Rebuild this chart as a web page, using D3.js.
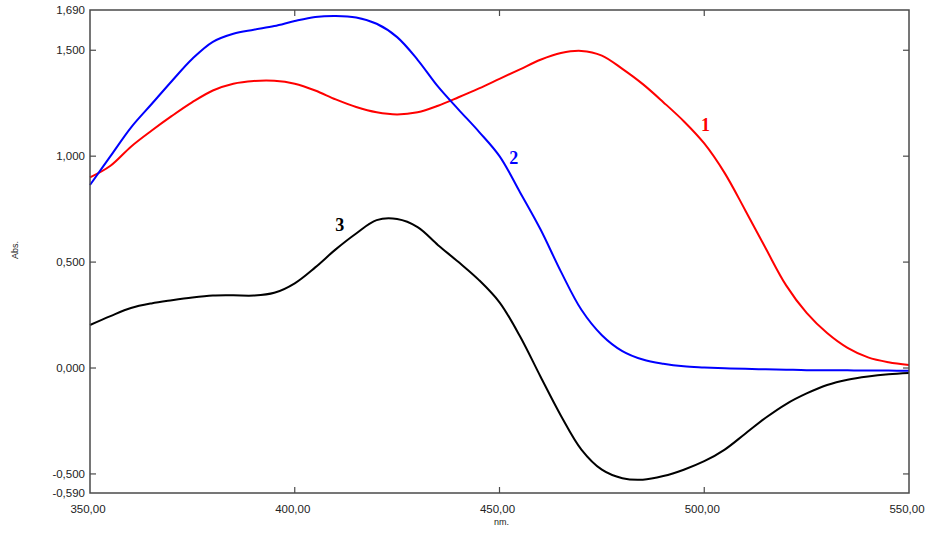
<!DOCTYPE html>
<html>
<head>
<meta charset="utf-8">
<script src="https://cdn.jsdelivr.net/npm/d3@7"></script>
<style>
  body { margin: 0; background: #fff; }
  text { font-family: Arial, "Liberation Sans", sans-serif; }
</style>
</head>
<body>
<div id="chart"></div>
<script>
// wavelength grid (nm)
var wavelengths = [350, 355, 360, 365, 370, 375, 380, 385, 390, 395,
  400, 405, 410, 415, 420, 425, 430, 435, 440, 445,
  450, 455, 460, 465, 470, 475, 480, 485, 490, 495,
  500, 505, 510, 515, 520, 525, 530, 535, 540, 545, 550];

// curve 1 (red)
var series1 = [0.900, 0.955, 1.045, 1.120, 1.190, 1.255, 1.310, 1.342, 1.355, 1.356,
  1.342, 1.310, 1.268, 1.232, 1.207, 1.197, 1.207, 1.238, 1.278, 1.320,
  1.365, 1.410, 1.455, 1.487, 1.497, 1.475, 1.412, 1.340, 1.255, 1.165,
  1.060, 0.920, 0.745, 0.565, 0.390, 0.260, 0.165, 0.095, 0.050, 0.027, 0.014];

// curve 2 (blue)
var series2 = [0.864, 1.000, 1.135, 1.245, 1.355, 1.460, 1.540, 1.578, 1.597, 1.614,
  1.638, 1.657, 1.662, 1.655, 1.625, 1.562, 1.455, 1.328, 1.220, 1.115,
  1.000, 0.830, 0.655, 0.455, 0.275, 0.155, 0.080, 0.040, 0.020, 0.008,
  0.003, -0.001, -0.004, -0.006, -0.008, -0.010, -0.010, -0.011, -0.012, -0.012, -0.013];

// curve 3 (black)
var series3 = [0.203, 0.245, 0.283, 0.305, 0.320, 0.333, 0.342, 0.343, 0.342, 0.355,
  0.400, 0.475, 0.560, 0.635, 0.698, 0.703, 0.665, 0.580, 0.500, 0.415,
  0.310, 0.150, -0.040, -0.225, -0.385, -0.480, -0.520, -0.527, -0.510, -0.480,
  -0.440, -0.385, -0.310, -0.235, -0.170, -0.120, -0.080, -0.055, -0.040, -0.030, -0.024];

var xTicks = [350, 400, 450, 500, 550];
var yTicks = [-0.59, -0.5, 0, 0.5, 1, 1.5, 1.69];
var yInnerTicks = [-0.5, 0, 0.5, 1, 1.5];
var xInnerTicks = [400, 450, 500];

// curve labels: [text, wavelength, absorbance]
var curveLabels = [
  ["1", 500.3, 1.12],
  ["2", 453.5, 0.963],
  ["3", 411.0, 0.647]
];

var colors = ["#ff0000", "#0000ff", "#000000"];

// Dimensions
var width = 927,
    height = 537,
    plotL = 90, plotR = 909, plotT = 10, plotB = 493;

var svg = d3.select("#chart")
  .append("svg")
    .attr("width", width)
    .attr("height", height);

var x = d3.scaleLinear().domain([350, 550]).range([plotL, plotR]);
var y = d3.scaleLinear().domain([-0.59, 1.69]).range([plotB, plotT]);

var fmtY = function(d) { return d3.format(".3f")(d).replace(".", ",").replace("−", "-"); };
var fmtX = function(d) { return d3.format(".2f")(d).replace(".", ","); };

// Curves
var line = d3.line()
  .x(function(d) { return x(d[0]); })
  .y(function(d) { return y(d[1]); })
  .curve(d3.curveCatmullRom.alpha(0.5));

[series1, series2, series3].forEach(function(s, i) {
  svg.append("path")
    .datum(wavelengths.map(function(w, j) { return [w, s[j]]; }))
    .attr("fill", "none")
    .attr("stroke", colors[i])
    .attr("stroke-width", 2)
    .attr("d", line);
});

// Frame
svg.append("rect")
  .attr("x", plotL)
  .attr("y", plotT)
  .attr("width", plotR - plotL)
  .attr("height", plotB - plotT)
  .attr("fill", "none")
  .attr("stroke", "#4a4a4a")
  .attr("stroke-width", 1.5);

// Inward ticks
var tickLen = 6;
svg.selectAll(".ytl").data(yInnerTicks).enter().append("line")
  .attr("x1", plotL).attr("x2", plotL + tickLen)
  .attr("y1", function(d) { return y(d); }).attr("y2", function(d) { return y(d); })
  .attr("stroke", "#4a4a4a").attr("stroke-width", 1.2);
svg.selectAll(".ytr").data(yInnerTicks).enter().append("line")
  .attr("x1", plotR).attr("x2", plotR - tickLen)
  .attr("y1", function(d) { return y(d); }).attr("y2", function(d) { return y(d); })
  .attr("stroke", "#4a4a4a").attr("stroke-width", 1.2);
svg.selectAll(".xtb").data(xInnerTicks).enter().append("line")
  .attr("x1", function(d) { return x(d); }).attr("x2", function(d) { return x(d); })
  .attr("y1", plotB).attr("y2", plotB - tickLen)
  .attr("stroke", "#4a4a4a").attr("stroke-width", 1.2);
svg.selectAll(".xtt").data(xInnerTicks).enter().append("line")
  .attr("x1", function(d) { return x(d); }).attr("x2", function(d) { return x(d); })
  .attr("y1", plotT).attr("y2", plotT + tickLen)
  .attr("stroke", "#4a4a4a").attr("stroke-width", 1.2);

// Tick labels
svg.selectAll(".ylab").data(yTicks).enter().append("text")
  .attr("x", plotL - 5)
  .attr("y", function(d) { return y(d); })
  .attr("dy", "0.35em")
  .attr("text-anchor", "end")
  .style("font-size", "11.5px")
  .attr("fill", "#222")
  .text(fmtY);

svg.selectAll(".xlab").data(xTicks).enter().append("text")
  .attr("x", function(d) { return x(d) - 2; })
  .attr("y", 513)
  .attr("text-anchor", "middle")
  .style("font-size", "11.5px")
  .attr("fill", "#222")
  .text(fmtX);

// Axis titles
svg.append("text")
  .attr("x", (plotL + plotR) / 2 + 2)
  .attr("y", 525)
  .attr("text-anchor", "middle")
  .style("font-size", "9px")
  .attr("fill", "#222")
  .text("nm.");

svg.append("text")
  .attr("transform", "translate(18," + 250 + ")rotate(-90)")
  .attr("text-anchor", "middle")
  .style("font-size", "9px")
  .attr("fill", "#222")
  .text("Abs.");

// Curve numbers
svg.selectAll(".clab").data(curveLabels).enter().append("text")
  .attr("x", function(d) { return x(d[1]); })
  .attr("y", function(d) { return y(d[2]); })
  .attr("text-anchor", "middle")
  .style("font-family", "'Liberation Serif', 'Times New Roman', serif")
  .style("font-size", "18px")
  .style("font-weight", "bold")
  .attr("fill", function(d, i) { return colors[i]; })
  .text(function(d) { return d[0]; });
</script>
</body>
</html>
